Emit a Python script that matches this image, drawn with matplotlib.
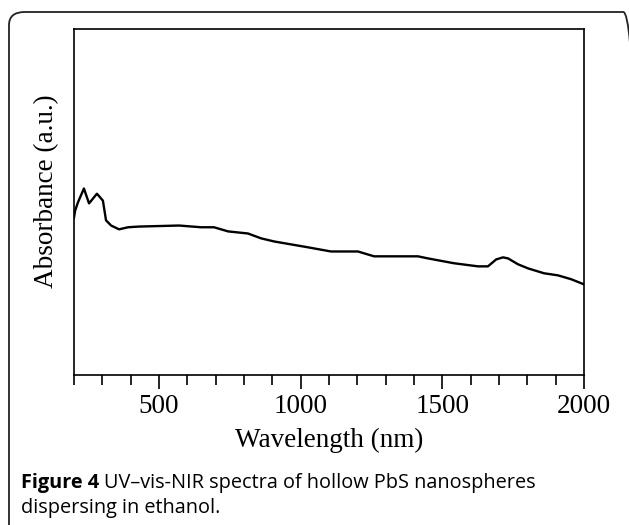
import numpy as np
import matplotlib
matplotlib.use('Agg')
import matplotlib.pyplot as plt
from matplotlib.patches import FancyBboxPatch
from matplotlib.ticker import MultipleLocator

# spectrum (absorbance in arbitrary units, 0..1 of the frame)
wavelength = [200, 204, 214, 235, 253, 281, 302, 313, 331, 359, 391, 429, 571, 648,
              694, 744, 814, 860, 906, 1026, 1107, 1202, 1259, 1414, 1449, 1541,
              1626, 1661, 1690, 1714, 1732, 1767, 1803, 1859, 1908, 1954, 2000]
absorbance = [0.455, 0.475, 0.499, 0.539, 0.496, 0.524, 0.504, 0.447, 0.432, 0.421,
              0.427, 0.429, 0.432, 0.427, 0.427, 0.415, 0.409, 0.395, 0.386, 0.369,
              0.357, 0.357, 0.343, 0.343, 0.337, 0.323, 0.314, 0.314, 0.334, 0.340,
              0.337, 0.320, 0.308, 0.294, 0.288, 0.277, 0.262]
xticks = [500, 1000, 1500, 2000]

W, H = 629, 525
fig = plt.figure(figsize=(W / 100, H / 100), dpi=100)

# rounded frame round the whole figure (runs off the right and bottom edge)
frame = FancyBboxPatch((9 / W, 1 - 540 / H), 630 / W, 528 / H,
                       boxstyle='round,pad=0,rounding_size=0.025',
                       transform=fig.transFigure, fill=False,
                       edgecolor='#222222', linewidth=1.3)
fig.patches.append(frame)

ax = fig.add_axes([74 / W, 1 - 375 / H, 510 / W, 346 / H])
ax.plot(wavelength, absorbance, color='black', linewidth=1.7)
ax.set_xlim(200, 2000)
ax.set_ylim(0, 1)
ax.set_yticks([])
ax.set_xticks(xticks)
ax.xaxis.set_minor_locator(MultipleLocator(100))
ax.tick_params(axis='x', which='major', length=10, width=1.2, direction='out',
               pad=4, labelsize=19.5)
ax.tick_params(axis='x', which='minor', length=7, width=1.2, direction='out')
for lbl in ax.get_xticklabels():
    lbl.set_fontfamily('Liberation Serif')
for s in ax.spines.values():
    s.set_linewidth(1.2)

fig.text(329 / W, 1 - 440 / H, 'Wavelength (nm)', family='Liberation Serif',
         fontsize=19.5, ha='center', va='center')
fig.text(47 / W, 1 - 191 / H, 'Absorbance (a.u.)', family='Liberation Serif',
         fontsize=19.5, ha='center', va='center', rotation=90)

# caption
cap_font = ['Open Sans', 'DejaVu Sans']
t1 = fig.text(21 / W, 1 - 483 / H, 'Figure 4', family=cap_font, fontsize=14.3,
              fontweight='bold', va='center', ha='left')
fig.canvas.draw()
bb = t1.get_window_extent()
fig.text(bb.x1 / W + 5 / W, 1 - 483 / H, 'UV\u2013vis-NIR spectra of hollow PbS nanospheres',
         family=cap_font, fontsize=14.3, va='center', ha='left')
fig.text(21 / W, 1 - 508 / H, 'dispersing in ethanol.', family=cap_font,
         fontsize=14.3, va='center', ha='left')

fig.savefig('out.png', dpi=100)
